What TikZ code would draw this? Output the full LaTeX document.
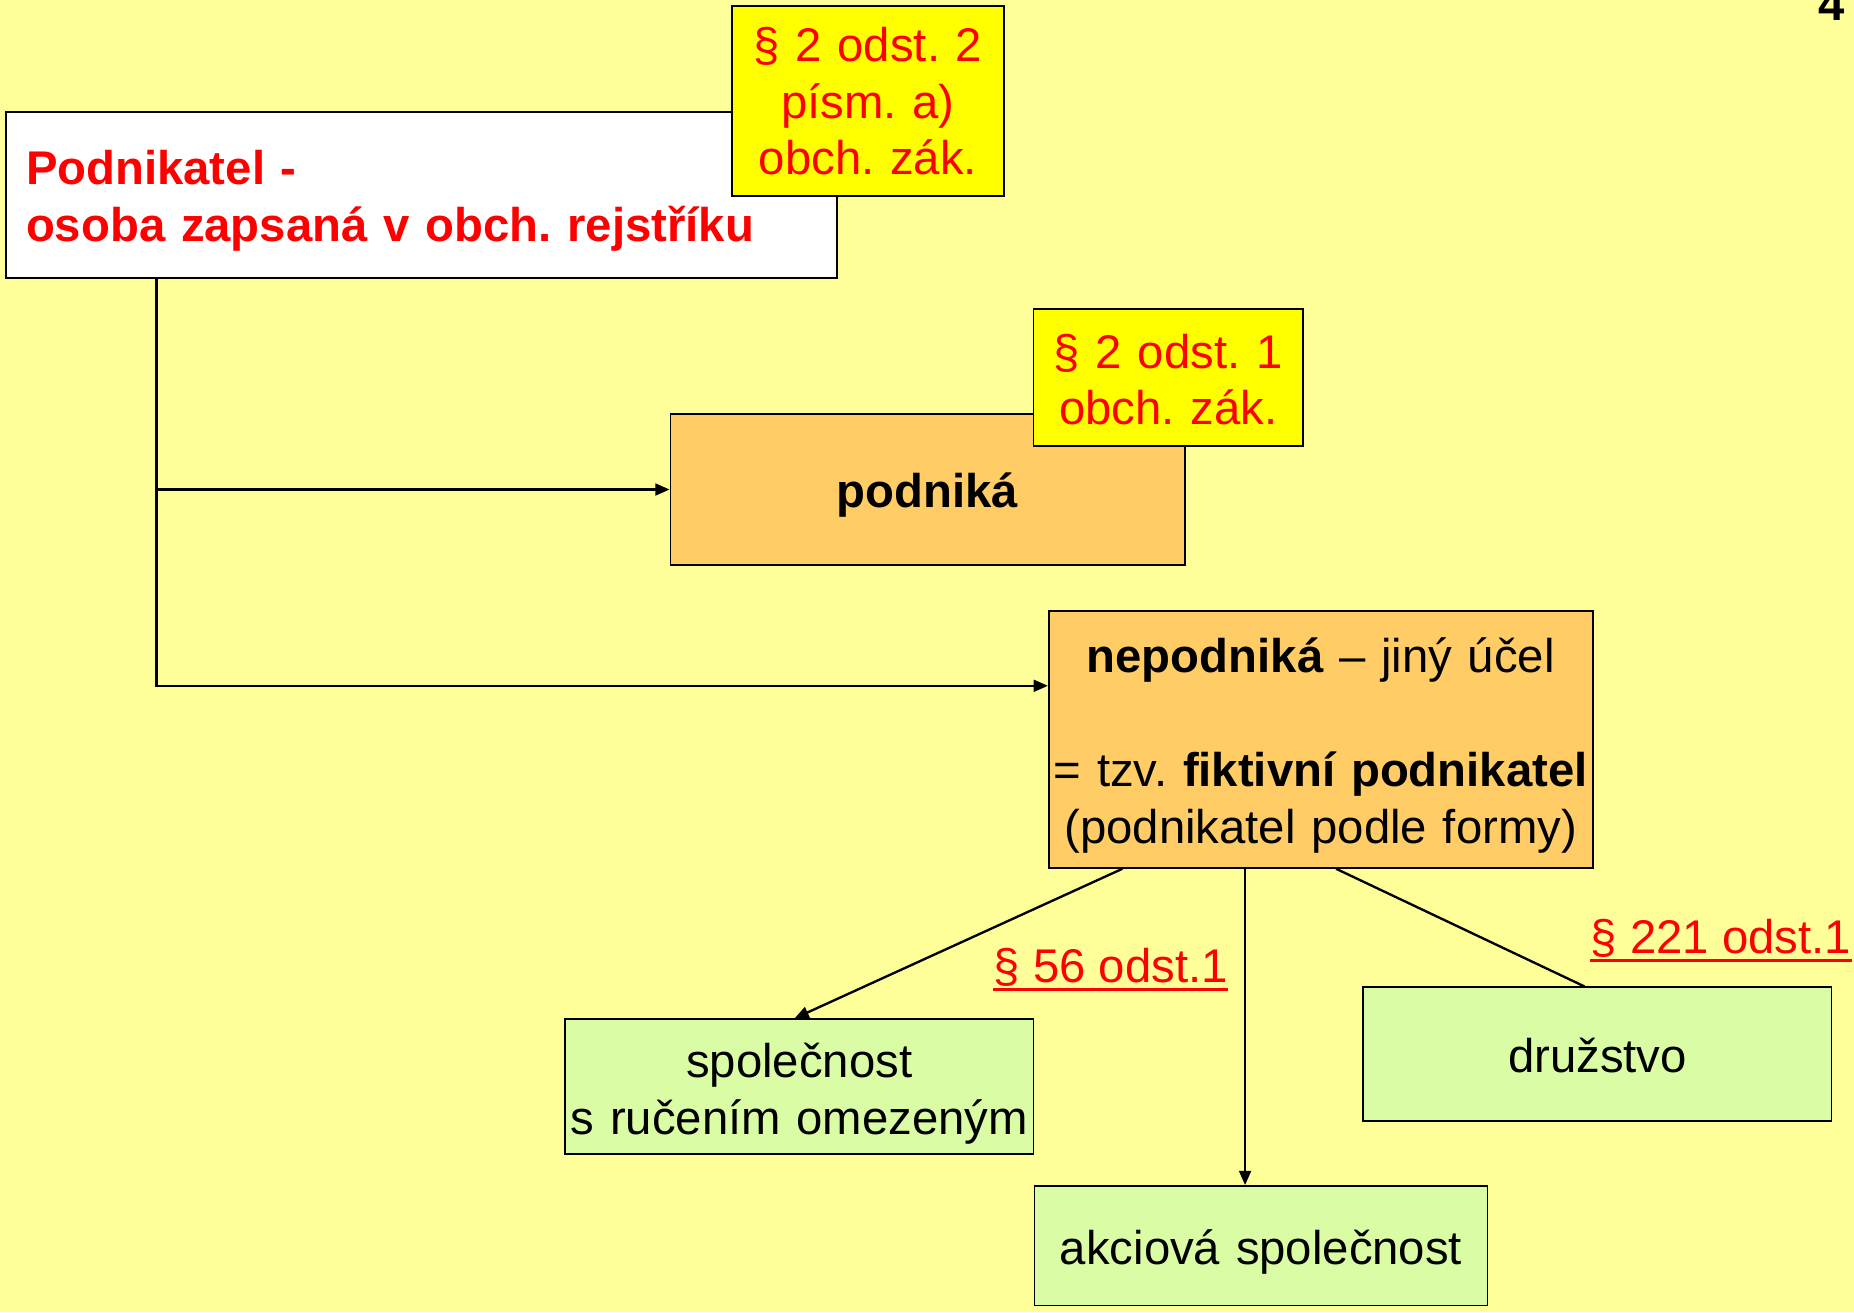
\documentclass[tikz,border=0pt]{standalone}
\usepackage{fontspec}
\setmainfont{Liberation Sans}
\usetikzlibrary{arrows.meta}
\definecolor{bgc}{HTML}{FFFF99}
\definecolor{orng}{HTML}{FFCC66}
\definecolor{yel}{HTML}{FFFF00}
\definecolor{grn}{RGB}{218,252,165}
\definecolor{rd}{HTML}{FF0000}
\frenchspacing
\newcommand\shiftdn[2]{\raisebox{-#1}[\height][\depth]{#2}}
\begin{document}
\begin{tikzpicture}[x=0.5pt,y=-0.5pt,
  every node/.style={font=\fontsize{20pt}{24pt}\selectfont},
  box/.style={draw=black,line width=0.75pt,inner sep=0pt,align=center},
  wbox/.style={box,fill=white,text width=334.5pt,inner xsep=8.5pt,align=left,text=rd,font=\fontsize{20pt}{24pt}\selectfont\bfseries},
  ybox/.style={box,fill=yel,text=rd},
  obox/.style={box,fill=orng},
  gbox/.style={box,fill=grn},
  conn/.style={line width=1pt},
  arr/.style={conn,-{Triangle[length=6pt,width=5pt]}},
  lbl/.style={text=rd,inner sep=0pt},
  ul/.style={rd,line width=1.2pt}
  ]
\fill[bgc] (0,0) rectangle (1568,1110);
\useasboundingbox (0,0) rectangle (1568,1110);

\node[anchor=base east,inner sep=0pt,font=\fontsize{20pt}{24pt}\selectfont\bfseries] (num) at (1561,17.5) {4};

\node[wbox,minimum width=351.5pt,minimum height=70pt] (wb) at (356.5,165)
  {\shiftdn{2.5pt}{\parbox{334.5pt}{\raggedright Podnikatel -\\osoba zapsaná v obch. rejstříku}}};
\node[ybox,text width=115pt,minimum height=80.5pt] (y1) at (734,85.5)
  {\parbox{115pt}{\centering § 2 odst. 2\\písm. a)\\obch. zák.}};

\node[obox,text width=217.5pt,minimum height=64pt,font=\fontsize{20pt}{24pt}\selectfont\bfseries] (pod) at (784.5,414) {\shiftdn{2.5pt}{podniká}};
\node[ybox,text width=114pt,minimum height=58pt] (y2) at (988,319)
  {\shiftdn{1pt}{\parbox{114pt}{\centering § 2 odst. 1\\obch. zák.}}};

\node[obox,text width=230pt,minimum height=108.5pt] (nep) at (1117,625.5)
  {\shiftdn{2.5pt}{\parbox{230pt}{\centering\textbf{nepodniká} – jiný účel\\[24pt]= tzv. \textbf{fiktivní podnikatel}\\(podnikatel podle formy)}}};

\node[gbox,text width=198pt,minimum height=57pt] (sro) at (676,919)
  {\shiftdn{3pt}{\parbox{198pt}{\centering společnost\\s ručením omezeným}}};
\node[gbox,text width=198pt,minimum height=56.5pt] (druz) at (1351,891.5) {\shiftdn{0.5pt}{družstvo}};
\node[gbox,text width=191.5pt,minimum height=50.5pt] (as) at (1066.5,1053.5) {\shiftdn{2.5pt}{akciová společnost}};

\node[lbl,anchor=base west] (l56) at (840,831) {§ 56 odst.1};
\draw[ul] ([yshift=-3pt]l56.base west) -- ([yshift=-3pt]l56.base east);
\node[lbl,anchor=base west] (l221) at (1345,806) {§ 221 odst.1};
\draw[ul] ([yshift=-3pt]l221.base west) -- ([yshift=-3pt]l221.base east);

% connectors
\coordinate (j1) at ([xshift=64pt]wb.south west |- pod.west);
\draw[arr] ([xshift=64pt]wb.south west) |- ([yshift=22.75pt]nep.west);
\draw[arr] (j1) -- (pod.west |- j1);

\draw[arr] ([xshift=31.5pt]nep.south west) -- ([xshift=-2pt]sro.north);
\draw[arr] ([xshift=-32pt]nep.south) -- ([xshift=-32pt]nep.south |- as.north);
\draw[conn] ([xshift=6.5pt]nep.south) -- ([xshift=-5.5pt]druz.north);
\end{tikzpicture}
\end{document}
